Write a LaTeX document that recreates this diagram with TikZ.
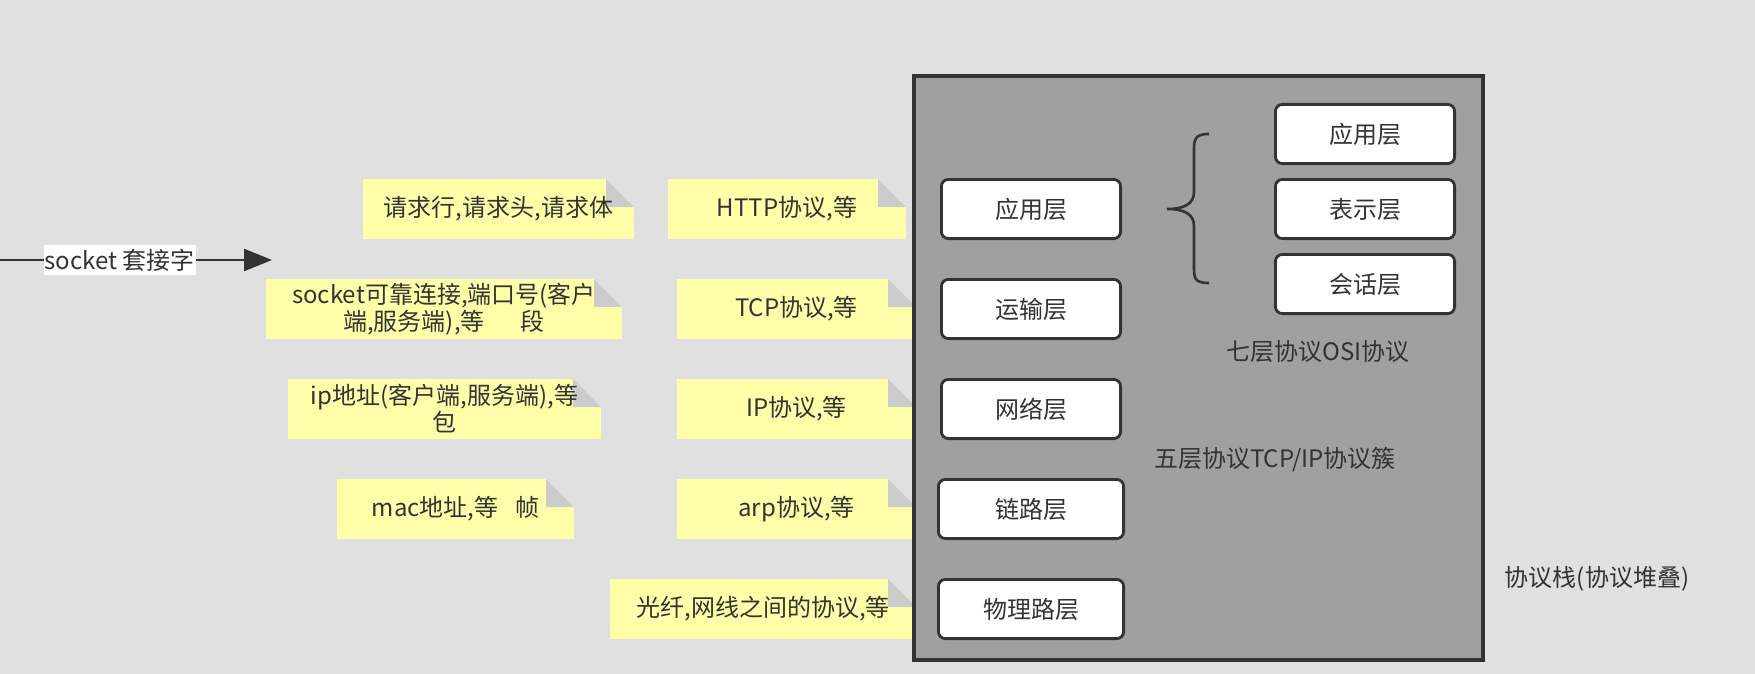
\documentclass[tikz,border=0pt]{standalone}
\usepackage{fontspec}
\setmainfont{Noto Sans CJK SC}
\usetikzlibrary{positioning,arrows.meta,calc}
\definecolor{bgGray}{HTML}{E0E0E0}
\definecolor{stackGray}{HTML}{A0A0A0}
\definecolor{lineDark}{HTML}{333333}
\definecolor{noteYellow}{HTML}{FFFFAA}
\definecolor{foldGray}{HTML}{CCCCCC}

\begin{document}
\begin{tikzpicture}[x=0.5pt,y=-0.5pt,
      font=\fontsize{12}{13.5}\selectfont, text=lineDark,
      layer/.style={draw=lineDark,line width=1.4pt,rounded corners=3.5pt,fill=white,minimum width=89.6pt,minimum height=29.6pt},
      note/.style={fill=noteYellow,minimum height=30pt,align=center,inner sep=2pt,
        path picture={
          \coordinate (ne) at (path picture bounding box.north east);
          \fill[bgGray] ($(ne)+(-14pt,0)$) -- (ne) -- ($(ne)+(0,-14pt)$) -- cycle;
          \fill[foldGray] ($(ne)+(-14pt,0)$) -- ($(ne)+(-14pt,-14pt)$) -- ($(ne)+(0,-14pt)$) -- cycle;
        }}
    ]
    \useasboundingbox (0,0) rectangle (1755,674);
    \fill[bgGray] (0,0) rectangle (1755,674);

    % notes left of the stack
    \node[note,minimum width=135.5pt] (nreq) at (498.5,209) {请求行,请求头,请求体};
    \node[note,minimum width=119pt] (nhttp) at (787,209) {HTTP协议,等};
    \node[note,minimum width=178pt] (nsock) at (444,309) {socket可靠连接,端口号(客户\\端,服务端),等\hspace{1.5em}段};
    \node[note,minimum width=119.5pt] (ntcp) at (796.5,309) {TCP协议,等};
    \node[note,minimum width=156.5pt] (nip) at (444.5,409) {ip地址(客户端,服务端),等\\包};
    \node[note,minimum width=119.5pt] (nipp) at (796.5,409) {IP协议,等};
    \node[note,minimum width=118.5pt] (nmac) at (455.5,509) {mac地址,等\hspace{0.7em}帧};
    \node[note,minimum width=119.5pt] (narp) at (796.5,509) {arp协议,等};
    \node[note,minimum width=153pt] (nphys) at (763,609) {光纤,网线之间的协议,等};

    % protocol stack
    \draw[line width=1.7pt,draw=lineDark,fill=stackGray] (914,76) rectangle (1483,660);

    \node[layer] (tapp) at (1031,209) {应用层};
    \node[layer,below=19pt of tapp] (ttrans) {运输层};
    \node[layer,below=19pt of ttrans] (tnet) {网络层};
    \node[layer,minimum width=92.6pt,below=19pt of tnet] (tlink) {链路层};
    \node[layer,minimum width=92.6pt,below=19pt of tlink] (tphys) {物理路层};

    \node[layer] (oapp) at (1365,134) {应用层};
    \node[layer,below=6.5pt of oapp] (opres) {表示层};
    \node[layer,below=6.5pt of opres] (osess) {会话层};

    \draw[line width=1.3pt,lineDark] (1209,134) .. controls (1194,134) and (1194,140) .. (1194,152) -- (1194,192)
      .. controls (1194,204) and (1184,209) .. (1167,209)
      .. controls (1184,209) and (1194,214) .. (1194,226) -- (1194,266)
      .. controls (1194,278) and (1194,283) .. (1209,283);

    \node (osilbl) at (1318,351) {七层协议OSI协议};
    \node (tcpiplbl) at (1275,459) {五层协议TCP/IP协议簇};
    \node (stacklbl) at (1597,579) {协议栈(协议堆叠)};

    % socket arrow
    \coordinate (sockstart) at (0,260);
    \coordinate (sockend) at (272,260);
    \draw[line width=1.25pt,lineDark,-{Triangle[length=14pt,width=11pt]}] (sockstart) -- (sockend)
      node[pos=0.44,fill=white,inner xsep=0.5pt,inner ysep=2pt] (socklbl) {socket 套接字};
  \end{tikzpicture}
\end{document}
